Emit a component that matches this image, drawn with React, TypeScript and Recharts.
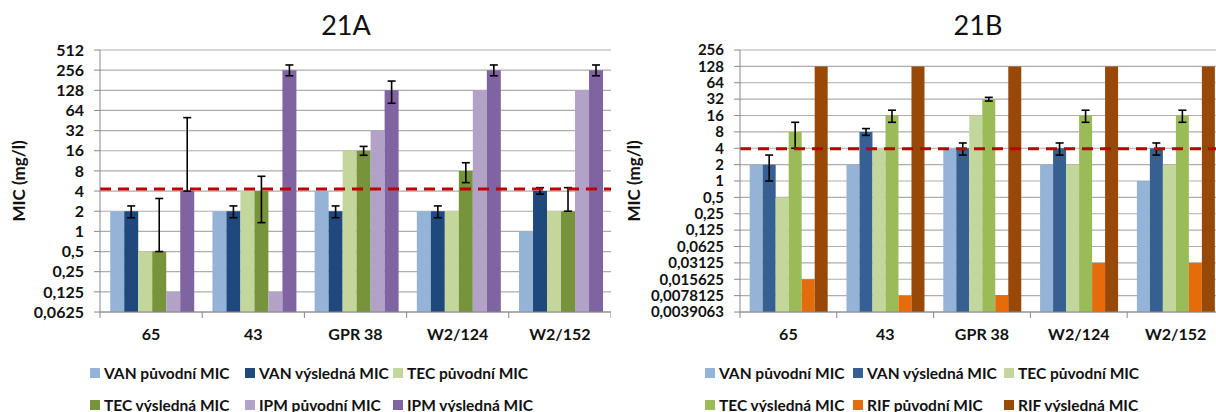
import React from "react";
import {
  BarChart,
  Bar,
  XAxis,
  YAxis,
  CartesianGrid,
  ErrorBar,
  ReferenceLine,
} from "recharts";

// strains
const categories = ["65", "43", "GPR 38", "W2/124", "W2/152"];

// 21A
const vanPuvodniA = [2, 2, 4, 2, 1];
const vanVyslednaA = [2, 2, 2, 2, 4];
const vanErrA = [[0.4, 0.4], [0.4, 0.4], [0.4, 0.4], [0.4, 0.4], [0.4, 0.5]];
const tecPuvodniA = [0.5, 4, 16, 2, 2];
const tecVyslednaA = [0.5, 4, 16, 8, 2];
const tecErrA = [[0, 2.6], [2.65, 2.65], [2.3, 2.6], [2.65, 2.6], [0, 2.5]];
const ipmPuvodniA = [0.125, 0.125, 32, 128, 128];
const ipmVyslednaA = [4, 256, 128, 256, 256];
const ipmErrA = [[0, 46], [45, 50], [46, 48], [45, 50], [45, 50]];
const breakpointA = 4.3;

// 21B
const vanPuvodniB = [2, 2, 4, 2, 1];
const vanVyslednaB = [2, 8, 4, 4, 4];
const vanErrB = [[1, 1], [1.1, 1.2], [1, 1], [1, 1], [1, 1]];
const tecPuvodniB = [0.5, 4, 16, 2, 2];
const tecVyslednaB = [8, 16, 32, 16, 16];
const tecErrB = [[4, 4], [4, 4], [2.5, 2.5], [4, 4], [4, 4]];
const rifPuvodniB = [0.015625, 0.0078125, 0.008, 0.03125, 0.03125];
const rifVyslednaB = [128, 128, 128, 128, 128];
const breakpointB = 3.9;

const ticksA = [0.0625, 0.125, 0.25, 0.5, 1, 2, 4, 8, 16, 32, 64, 128, 256, 512];
const tickLabelsA = ["0,0625", "0,125", "0,25", "0,5", "1", "2", "4", "8", "16", "32", "64", "128", "256", "512"];
const ticksB = [
  0.00390625, 0.0078125, 0.015625, 0.03125, 0.0625, 0.125, 0.25, 0.5, 1, 2, 4, 8, 16, 32, 64, 128, 256,
];
const tickLabelsB = [
  "0,0039063", "0,0078125", "0,015625", "0,03125", "0,0625", "0,125", "0,25", "0,5",
  "1", "2", "4", "8", "16", "32", "64", "128", "256",
];

const dataA = categories.map((name, i) => ({
  name,
  vanP: vanPuvodniA[i],
  vanV: vanVyslednaA[i],
  vanE: vanErrA[i],
  tecP: tecPuvodniA[i],
  tecV: tecVyslednaA[i],
  tecE: tecErrA[i],
  ipmP: ipmPuvodniA[i],
  ipmV: ipmVyslednaA[i],
  ipmE: ipmErrA[i],
}));

const dataB = categories.map((name, i) => ({
  name,
  vanP: vanPuvodniB[i],
  vanV: vanVyslednaB[i],
  vanE: vanErrB[i],
  tecP: tecPuvodniB[i],
  tecV: tecVyslednaB[i],
  tecE: tecErrB[i],
  rifP: rifPuvodniB[i],
  rifV: rifVyslednaB[i],
}));

type Series = { key: string; name: string; color: string; err?: string };

const seriesA: Series[] = [
  { key: "vanP", name: "VAN původní MIC", color: "#95B3D7" },
  { key: "vanV", name: "VAN výsledná MIC", color: "#1F497D", err: "vanE" },
  { key: "tecP", name: "TEC původní MIC", color: "#C3D69B" },
  { key: "tecV", name: "TEC výsledná MIC", color: "#77933C", err: "tecE" },
  { key: "ipmP", name: "IPM původní MIC", color: "#B3A2C7" },
  { key: "ipmV", name: "IPM výsledná MIC", color: "#8064A2", err: "ipmE" },
];

const seriesB: Series[] = [
  { key: "vanP", name: "VAN původní MIC", color: "#95B3D7" },
  { key: "vanV", name: "VAN výsledná MIC", color: "#376092", err: "vanE" },
  { key: "tecP", name: "TEC původní MIC", color: "#C3D69B" },
  { key: "tecV", name: "TEC výsledná MIC", color: "#9BBB59", err: "tecE" },
  { key: "rifP", name: "RIF původní MIC", color: "#E46C0A" },
  { key: "rifV", name: "RIF výsledná MIC", color: "#984807" },
];

const FONT = "Lato, 'Open Sans', sans-serif";
const GRID = "#ADADAD";
const AXIS = "#888888";

function CatTick(props: any) {
  const { x, y, payload, index, visibleTicksCount } = props;
  const off = payload.offset ?? 0;
  const last = index === visibleTicksCount - 1;
  return (
    <g>
      <line x1={x - off} x2={x - off} y1={y - 8} y2={y - 2} stroke={AXIS} />
      {last && <line x1={x + off} x2={x + off} y1={y - 8} y2={y - 2} stroke={AXIS} />}
      <text x={x} y={y + 20} textAnchor="middle" fontFamily={FONT} fontWeight="bold" fontSize={16} fill="#111">
        {payload.value}
      </text>
    </g>
  );
}

function ChartLegend({ series, cols, left }: { series: Series[]; cols: number[]; left: number }) {
  return (
    <div
      style={{
        position: "absolute",
        left,
        top: 362,
        display: "grid",
        gridTemplateColumns: cols.map((c) => c + "px").join(" "),
        rowGap: 11,
        fontFamily: FONT,
        fontWeight: "bold",
        fontSize: 15.5,
        color: "#111",
      }}
    >
      {series.map((s) => (
        <div key={s.key} style={{ display: "flex", alignItems: "center", height: 21, whiteSpace: "nowrap" }}>
          <span style={{ width: 10, height: 10, background: s.color, marginRight: 4, display: "inline-block" }} />
          {s.name}
        </div>
      ))}
    </div>
  );
}

function MicChart(props: {
  title: string;
  data: any[];
  series: Series[];
  ticks: number[];
  labels: string[];
  breakpoint: number;
  width: number;
  yWidth: number;
  tickFont: number;
  titleX: number;
  labelX: number;
  legendLeft: number;
  legendCols: number[];
}) {
  const { title, data, series, ticks, labels, breakpoint, width, yWidth, tickFont, titleX, labelX, legendLeft, legendCols } =
    props;
  return (
    <div style={{ position: "relative", width, height: 412 }}>
      <div
        style={{
          position: "absolute",
          left: titleX - 40,
          width: 80,
          top: 8,
          textAlign: "center",
          fontFamily: FONT,
          fontSize: 27,
          color: "#111",
        }}
      >
        {title}
      </div>
      <BarChart
        width={width}
        height={412}
        data={data}
        margin={{ top: 50, right: 0, bottom: 60, left: 0 }}
        barCategoryGap="10%"
        barGap={0}
      >
        <CartesianGrid vertical={false} stroke={GRID} strokeWidth={1.2} />
        <XAxis
          dataKey="name"
          tickLine={false}
          axisLine={{ stroke: AXIS }}
          tick={<CatTick />}
          interval={0}
          height={40}
        />
        <YAxis
          scale="log"
          type="number"
          domain={[ticks[0], ticks[ticks.length - 1]]}
          allowDataOverflow
          ticks={ticks}
          interval={0}
          width={yWidth}
          tickSize={6}
          tickMargin={10}
          tickLine={{ stroke: AXIS }}
          axisLine={{ stroke: AXIS }}
          tickFormatter={(v: number) => labels[ticks.indexOf(v)] ?? String(v)}
          tick={{ fontFamily: FONT, fontWeight: "bold", fontSize: tickFont, fill: "#111" }}
          label={{
            value: "MIC (mg/l)",
            angle: -90,
            position: "insideLeft",
            offset: labelX,
            style: { fontFamily: FONT, fontWeight: "bold", fontSize: 17, fill: "#111", textAnchor: "middle" },
          }}
        />
        {series.map((s) => (
          <Bar key={s.key} dataKey={s.key} name={s.name} fill={s.color} isAnimationActive={false}>
            {s.err && <ErrorBar dataKey={s.err} width={4} strokeWidth={1.6} stroke="#000" direction="y" />}
          </Bar>
        ))}
        <ReferenceLine y={breakpoint} stroke="#C00000" strokeWidth={3} strokeDasharray="11 7" />
      </BarChart>
      <ChartLegend series={series} cols={legendCols} left={legendLeft} />
    </div>
  );
}

export default function App() {
  return (
    <div
      style={{
        position: "absolute",
        left: 0,
        top: 0,
        width: 1216,
        height: 412,
        overflow: "hidden",
        background: "#fff",
      }}
    >
      <div style={{ position: "absolute", left: 0, top: 0 }}>
        <MicChart
          title="21A"
          data={dataA}
          series={seriesA}
          ticks={ticksA}
          labels={tickLabelsA}
          breakpoint={breakpointA}
          width={611}
          yWidth={100}
          tickFont={16}
          titleX={346}
          labelX={19}
          legendLeft={90}
          legendCols={[155, 148, 170]}
        />
      </div>
      <div style={{ position: "absolute", left: 610, top: 0 }}>
        <MicChart
          title="21B"
          data={dataB}
          series={seriesB}
          ticks={ticksB}
          labels={tickLabelsB}
          breakpoint={breakpointB}
          width={614}
          yWidth={130}
          tickFont={15}
          titleX={368}
          labelX={24}
          legendLeft={95}
          legendCols={[148, 151, 170]}
        />
      </div>
    </div>
  );
}
